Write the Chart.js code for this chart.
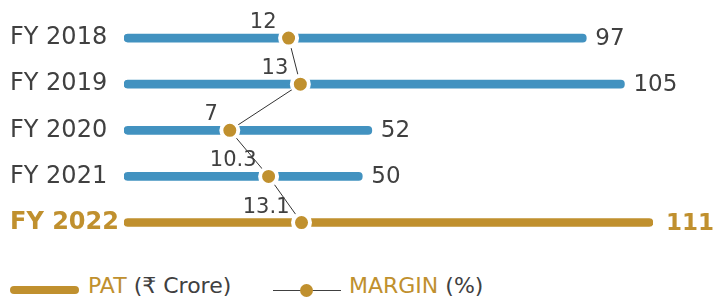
<!DOCTYPE html>
<html>
<head>
<meta charset="utf-8">
<script src="https://cdn.jsdelivr.net/npm/chart.js@4"></script>
<style>
  body { margin: 0; background: #fff; font-family: "DejaVu Sans", Verdana, sans-serif; }
  #wrap { position: relative; width: 714px; height: 301px; }
  #box { position: absolute; left: 0; top: 0; width: 714px; height: 260px; }
  .lg { position: absolute; font-size: 22px; line-height: 22px; color: #404040; white-space: nowrap; }
  .gold { color: #c0902e; }
</style>
</head>
<body>
<div id="wrap">
  <div id="box"><canvas id="grafico"></canvas></div>
  <!-- legenda -->
  <div style="position:absolute;left:10px;top:286px;width:69px;height:8px;border-radius:4px;background:#c0902e"></div>
  <div class="lg" style="left:88px;top:275px"><span class="gold">PAT</span> (₹ Crore)</div>
  <div style="position:absolute;left:273px;top:290px;width:68px;height:1px;background:#404040"></div>
  <div style="position:absolute;left:300px;top:284px;width:13px;height:13px;border-radius:50%;background:#c0902e"></div>
  <div class="lg" style="left:349px;top:275px"><span class="gold">MARGIN</span> (%)</div>
</div>
<script>
const anos = ["FY 2018", "FY 2019", "FY 2020", "FY 2021", "FY 2022"];
const pat = [97, 105, 52, 50, 111];
const margem = [12, 13, 7, 10.3, 13.1];

const azul = "#4292c0";
const ouro = "#c0902e";
const cinza = "#404040";
const fonte = '"DejaVu Sans", Verdana, sans-serif';

// rótulos de valor nas barras e nos pontos
const rotulos = {
  id: "rotulos",
  afterDatasetsDraw(chart) {
    const ctx = chart.ctx;
    ctx.save();
    const barras = chart.getDatasetMeta(1);
    barras.data.forEach((el, i) => {
      const ultimo = i === anos.length - 1;
      ctx.font = (ultimo ? "bold " : "") + "23px " + fonte;
      ctx.fillStyle = ultimo ? ouro : cinza;
      ctx.textAlign = "left";
      ctx.textBaseline = "middle";
      ctx.fillText(String(pat[i]), el.x + (ultimo ? 13 : 9), el.y + 1);
    });
    const linha = chart.getDatasetMeta(0);
    linha.data.forEach((el, i) => {
      ctx.font = "21px " + fonte;
      ctx.fillStyle = cinza;
      ctx.textAlign = "right";
      ctx.textBaseline = "alphabetic";
      ctx.fillText(String(margem[i]), el.x - 12, el.y - 10);
    });
    ctx.restore();
  }
};

new Chart(document.getElementById("grafico"), {
  type: "bar",
  data: {
    labels: anos,
    datasets: [
      {
        type: "line",
        label: "MARGIN (%)",
        data: margem,
        indexAxis: "y",
        xAxisID: "x2",
        borderColor: "#333",
        borderWidth: 1,
        pointRadius: 8.5,
        pointBorderWidth: 4,
        pointBackgroundColor: ouro,
        pointBorderColor: "#fff",
        order: 0
      },
      {
        type: "bar",
        label: "PAT (₹ Crore)",
        data: pat,
        xAxisID: "x",
        backgroundColor: anos.map((_, i) => i === anos.length - 1 ? ouro : azul),
        barThickness: 8,
        borderRadius: 4,
        borderSkipped: false,
        order: 1
      }
    ]
  },
  options: {
    indexAxis: "y",
    responsive: true,
    maintainAspectRatio: false,
    animation: false,
    layout: { padding: { left: 10, right: 61, top: 15, bottom: 5 } },
    plugins: { legend: { display: false }, tooltip: { enabled: false } },
    scales: {
      x: { display: false, min: 0, max: 111 },
      x2: { display: false, min: -2, max: 43 },
      y: {
        grid: { display: false },
        border: { display: false },
        afterFit: s => { s.width = 114; },
        ticks: {
          crossAlign: "far",
          padding: 0,
          color: c => c.index === anos.length - 1 ? ouro : cinza,
          font: c => ({ family: fonte, size: 24, weight: c.index === anos.length - 1 ? "bold" : "normal" })
        }
      }
    }
  },
  plugins: [rotulos]
});
</script>
</body>
</html>
